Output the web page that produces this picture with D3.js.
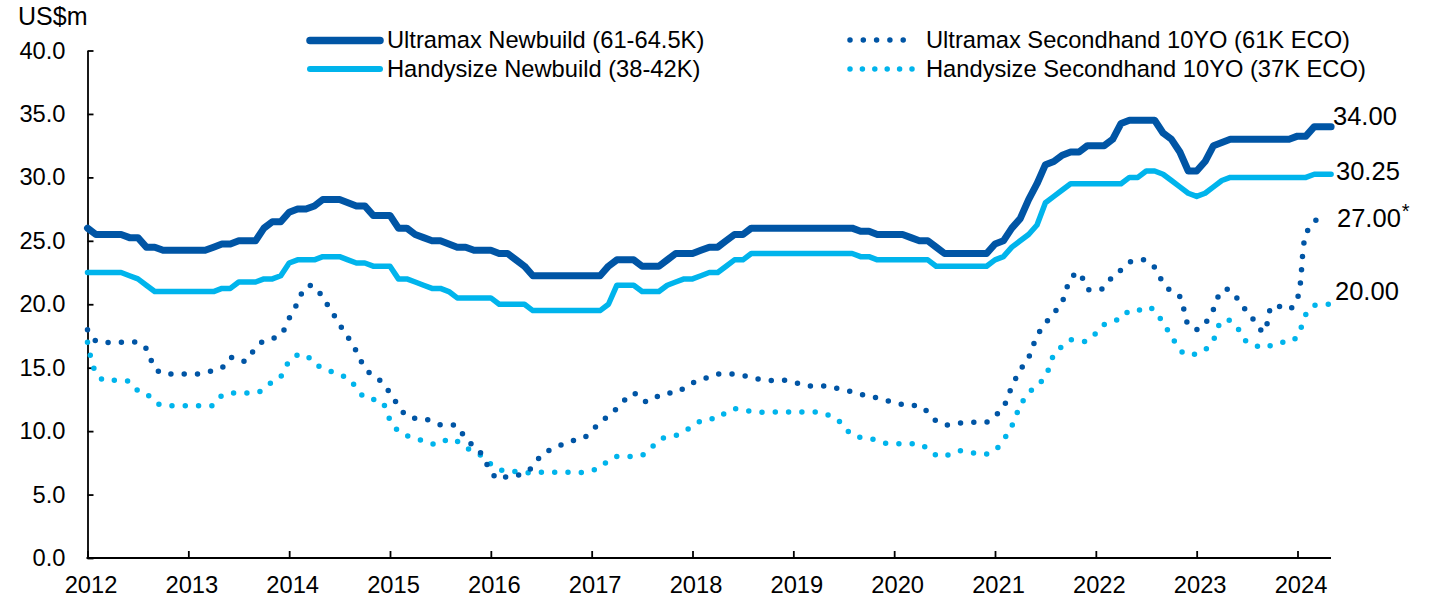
<!DOCTYPE html>
<html>
<head>
<meta charset="utf-8">
<script src="https://cdn.jsdelivr.net/npm/d3@7"></script>
<style>
  body { margin: 0; background: #fff; }
  svg text { font-family: "Liberation Sans", Arial, sans-serif; fill: #000; }
</style>
</head>
<body>
<div id="chart"></div>
<script>
// monthly values, Jan 2012 onwards (US$m)
const ultramaxNew = [
  26.0, 25.5, 25.5, 25.5, 25.5, 25.25, 25.25, 24.5, 24.5, 24.25, 24.25, 24.25,
  24.25, 24.25, 24.25, 24.5, 24.75, 24.75, 25.0, 25.0, 25.0, 26.0, 26.5, 26.5,
  27.25, 27.5, 27.5, 27.75, 28.25, 28.25, 28.25, 28.0, 27.75, 27.75, 27.0, 27.0,
  27.0, 26.0, 26.0, 25.5, 25.25, 25.0, 25.0, 24.75, 24.5, 24.5, 24.25, 24.25,
  24.25, 24.0, 24.0, 23.5, 23.0, 22.25, 22.25, 22.25, 22.25, 22.25, 22.25, 22.25,
  22.25, 22.25, 23.0, 23.5, 23.5, 23.5, 23.0, 23.0, 23.0, 23.5, 24.0, 24.0,
  24.0, 24.25, 24.5, 24.5, 25.0, 25.5, 25.5, 26.0, 26.0, 26.0, 26.0, 26.0,
  26.0, 26.0, 26.0, 26.0, 26.0, 26.0, 26.0, 26.0, 25.75, 25.75, 25.5, 25.5,
  25.5, 25.5, 25.25, 25.0, 25.0, 24.5, 24.0, 24.0, 24.0, 24.0, 24.0, 24.0,
  24.75, 25.0, 26.0, 26.75, 28.25, 29.5, 31.0, 31.25, 31.75, 32.0, 32.0, 32.5,
  32.5, 32.5, 33.0, 34.25, 34.5, 34.5, 34.5, 34.5, 33.5, 33.0, 32.0, 30.5,
  30.5, 31.25, 32.5, 32.75, 33.0, 33.0, 33.0, 33.0, 33.0, 33.0, 33.0, 33.0,
  33.25, 33.25, 34.0, 34.0, 34.0
];

const handyNew = [
  22.5, 22.5, 22.5, 22.5, 22.5, 22.25, 22.0, 21.5, 21.0, 21.0, 21.0, 21.0,
  21.0, 21.0, 21.0, 21.0, 21.25, 21.25, 21.75, 21.75, 21.75, 22.0, 22.0, 22.25,
  23.25, 23.5, 23.5, 23.5, 23.75, 23.75, 23.75, 23.5, 23.25, 23.25, 23.0, 23.0,
  23.0, 22.0, 22.0, 21.75, 21.5, 21.25, 21.25, 21.0, 20.5, 20.5, 20.5, 20.5,
  20.5, 20.0, 20.0, 20.0, 20.0, 19.5, 19.5, 19.5, 19.5, 19.5, 19.5, 19.5,
  19.5, 19.5, 20.0, 21.5, 21.5, 21.5, 21.0, 21.0, 21.0, 21.5, 21.75, 22.0,
  22.0, 22.25, 22.5, 22.5, 23.0, 23.5, 23.5, 24.0, 24.0, 24.0, 24.0, 24.0,
  24.0, 24.0, 24.0, 24.0, 24.0, 24.0, 24.0, 24.0, 23.75, 23.75, 23.5, 23.5,
  23.5, 23.5, 23.5, 23.5, 23.5, 23.0, 23.0, 23.0, 23.0, 23.0, 23.0, 23.0,
  23.5, 23.75, 24.5, 25.0, 25.5, 26.25, 28.0, 28.5, 29.0, 29.5, 29.5, 29.5,
  29.5, 29.5, 29.5, 29.5, 30.0, 30.0, 30.5, 30.5, 30.25, 29.75, 29.25, 28.75,
  28.5, 28.75, 29.25, 29.75, 30.0, 30.0, 30.0, 30.0, 30.0, 30.0, 30.0, 30.0,
  30.0, 30.0, 30.25, 30.25, 30.25
];

const ultramaxSecond = [
  18.0, 17.1, 17.0, 17.0, 17.0, 17.0, 17.0, 16.5, 15.0, 14.5, 14.5, 14.5,
  14.5, 14.5, 14.6, 14.8, 15.0, 15.8, 15.5, 15.6, 16.6, 17.1, 17.3, 17.6,
  18.9, 20.1, 21.4, 21.4, 20.5, 19.5, 18.4, 17.4, 16.3, 15.0, 14.35, 13.9,
  13.0, 12.0, 11.2, 11.0, 11.0, 10.75, 10.5, 10.5, 10.4, 9.4, 8.8, 8.1,
  6.8, 6.2, 6.45, 6.5, 6.7, 7.2, 8.1, 8.5, 8.8, 9.1, 9.3, 9.45,
  10.0, 10.7, 11.2, 11.8, 12.5, 13.0, 12.4, 12.35, 12.8, 13.0, 13.0, 13.4,
  13.8, 14.0, 14.3, 14.5, 14.5, 14.5, 14.4, 14.2, 14.1, 14.0, 14.0, 14.0,
  13.9, 13.65, 13.55, 13.55, 13.55, 13.4, 13.25, 13.1, 12.9, 12.8, 12.6, 12.4,
  12.3, 12.1, 12.0, 12.0, 11.5, 10.8, 10.5, 10.55, 10.65, 10.7, 10.7, 10.7,
  11.2, 11.9, 13.5, 14.8, 15.8, 17.5, 18.5, 19.3, 20.2, 22.0, 22.5, 21.2,
  21.1, 21.3, 22.2, 22.7, 23.3, 23.5, 23.45, 22.9, 21.7, 21.0, 20.6, 18.4,
  18.0, 18.5, 19.6, 21.1, 21.1, 20.3, 19.4, 18.6, 17.8, 19.9, 19.8, 19.6,
  20.5, 25.5, 26.5, 27.0
];

const handySecond = [
  17.0, 14.6, 14.0, 14.0, 14.0, 13.9, 13.2, 12.95, 12.3, 12.0, 12.0, 12.0,
  12.0, 12.0, 12.0, 12.05, 12.8, 13.0, 13.0, 13.0, 13.0, 13.3, 13.9, 14.3,
  15.5, 16.0, 16.0, 15.3, 15.0, 14.7, 14.4, 14.2, 13.4, 12.65, 12.5, 12.35,
  10.9, 10.0, 9.65, 9.4, 9.25, 9.0, 9.0, 9.4, 9.2, 8.7, 8.4, 8.0,
  7.4, 6.95, 6.95, 6.8, 6.75, 6.7, 6.75, 6.75, 6.75, 6.75, 6.75, 6.75,
  6.9, 7.1, 7.7, 8.0, 8.0, 8.0, 8.1, 8.6, 9.3, 9.55, 9.65, 9.95,
  10.4, 10.8, 10.97, 10.97, 11.5, 11.75, 11.7, 11.55, 11.5, 11.5, 11.5, 11.5,
  11.5, 11.5, 11.5, 11.5, 11.3, 11.05, 10.4, 9.7, 9.5, 9.4, 9.3, 9.05,
  9.0, 9.0, 9.0, 9.0, 8.6, 8.1, 8.0, 8.35, 8.45, 8.35, 8.2, 8.2,
  8.5, 9.3, 10.4, 12.0, 13.0, 13.6, 14.3, 16.0, 16.7, 17.2, 17.1, 17.1,
  17.7, 18.4, 18.7, 18.85, 19.5, 19.5, 19.8, 19.5, 18.5, 17.5, 16.4, 16.0,
  16.1, 16.4, 17.2, 18.7, 18.7, 18.0, 17.0, 16.75, 16.55, 16.8, 17.0, 17.0,
  17.5, 19.2, 19.9, 20.0, 20.0
];

const seriesNames = [
  "Ultramax Newbuild (61-64.5K)",
  "Handysize Newbuild (38-42K)",
  "Ultramax Secondhand 10YO (61K ECO)",
  "Handysize Secondhand 10YO (37K ECO)"
];
const endLabels = ["34.00", "30.25", "27.00", "20.00"];
const yearTicks = [2012, 2013, 2014, 2015, 2016, 2017, 2018, 2019, 2020, 2021, 2022, 2023, 2024];
const valueTicks = [0, 5, 10, 15, 20, 25, 30, 35, 40];

const darkBlue = "#0055a5";
const lightBlue = "#00b4ec";

function init() {
  const width = 1440;
  const height = 598;

  const svg = d3
    .select("#chart")
    .append("svg")
    .attr("width", width)
    .attr("height", height);

  const x = d3.scaleLinear().domain([2012, 2024]).range([87.5, 1297.5]);
  const y = d3.scaleLinear().domain([0, 40]).range([558, 50.5]);

  // month index -> decimal year
  const toPoints = (values) => values.map((v, i) => [2012 + i / 12, v]);

  const straight = d3
    .line()
    .x((d) => x(d[0]))
    .y((d) => y(d[1]));

  const smooth = d3
    .line()
    .curve(d3.curveCatmullRom.alpha(0.5))
    .x((d) => x(d[0]))
    .y((d) => y(d[1]));

  // y axis
  const yAxis = svg
    .append("g")
    .attr("transform", `translate(${x(2012)},0)`)
    .call(
      d3.axisLeft(y)
        .tickValues(valueTicks)
        .tickFormat(d3.format(".1f"))
        .tickSizeInner(-6)
        .tickSizeOuter(0)
        .tickPadding(22)
    );
  yAxis.selectAll("path, line").attr("stroke", "#000").attr("stroke-width", 1.8);
  yAxis.selectAll("text").style("font-size", "23.7px").attr("fill", "#000");

  // x axis
  const xAxis = svg
    .append("g")
    .attr("transform", `translate(0,${y(0)})`)
    .call(
      d3.axisBottom(x)
        .tickValues(yearTicks)
        .tickFormat(d3.format("d"))
        .tickSizeInner(-7)
        .tickSizeOuter(0)
        .tickPadding(18)
    );
  xAxis.select(".domain").remove();
  xAxis.selectAll("line").attr("stroke", "#000").attr("stroke-width", 1.8);
  xAxis.selectAll("text").style("font-size", "23.7px").attr("fill", "#000").attr("dx", 3);
  xAxis
    .append("line")
    .attr("x1", x(2012) - 1)
    .attr("x2", 1331)
    .attr("stroke", "#000")
    .attr("stroke-width", 1.8);

  svg
    .append("text")
    .attr("x", 18)
    .attr("y", 25)
    .style("font-size", "25px")
    .text("US$m");

  // dotted secondhand series
  svg
    .append("path")
    .datum(toPoints(handySecond))
    .attr("d", smooth)
    .attr("fill", "none")
    .attr("stroke", lightBlue)
    .attr("stroke-width", 5.5)
    .attr("stroke-linecap", "round")
    .attr("stroke-dasharray", "0 13.3");

  svg
    .append("path")
    .datum(toPoints(ultramaxSecond))
    .attr("d", smooth)
    .attr("fill", "none")
    .attr("stroke", darkBlue)
    .attr("stroke-width", 5.5)
    .attr("stroke-linecap", "round")
    .attr("stroke-dasharray", "0 13.3");

  // solid newbuild series
  svg
    .append("path")
    .datum(toPoints(handyNew))
    .attr("d", straight)
    .attr("fill", "none")
    .attr("stroke", lightBlue)
    .attr("stroke-width", 5.5)
    .attr("stroke-linejoin", "round")
    .attr("stroke-linecap", "round");

  svg
    .append("path")
    .datum(toPoints(ultramaxNew))
    .attr("d", straight)
    .attr("fill", "none")
    .attr("stroke", darkBlue)
    .attr("stroke-width", 7)
    .attr("stroke-linejoin", "round")
    .attr("stroke-linecap", "round");

  // legend
  const legend = [
    { name: seriesNames[0], color: darkBlue, lx: 310, ly: 40.5, tx: 387, ty: 48, w: 7.5, dash: null, len: 70 },
    { name: seriesNames[1], color: lightBlue, lx: 310, ly: 69, tx: 387, ty: 77, w: 6, dash: null, len: 70 },
    { name: seriesNames[2], color: darkBlue, lx: 850, ly: 40, tx: 926, ty: 48, w: 5.5, dash: "0 13.3", len: 54 },
    { name: seriesNames[3], color: lightBlue, lx: 850, ly: 69, tx: 926, ty: 77, w: 5.5, dash: "0 12.4", len: 62 }
  ];

  legend.forEach((d) => {
    svg
      .append("line")
      .attr("x1", d.lx)
      .attr("x2", d.lx + d.len)
      .attr("y1", d.ly)
      .attr("y2", d.ly)
      .attr("stroke", d.color)
      .attr("stroke-width", d.w)
      .attr("stroke-linecap", "round")
      .attr("stroke-dasharray", d.dash);
    svg
      .append("text")
      .attr("x", d.tx)
      .attr("y", d.ty)
      .style("font-size", "23.7px")
      .text(d.name);
  });

  // end-of-series labels
  const labelPos = [
    { x: 1333, y: 125 },
    { x: 1336, y: 180 },
    { x: 1337, y: 226.5 },
    { x: 1335, y: 300 }
  ];
  endLabels.forEach((label, i) => {
    const t = svg
      .append("text")
      .attr("x", labelPos[i].x)
      .attr("y", labelPos[i].y)
      .style("font-size", "25.5px")
      .text(label);
    if (i === 2) {
      t.append("tspan").attr("dy", -9).attr("dx", 1).style("font-size", "20px").text("*");
    }
  });
}

init();
</script>
</body>
</html>
